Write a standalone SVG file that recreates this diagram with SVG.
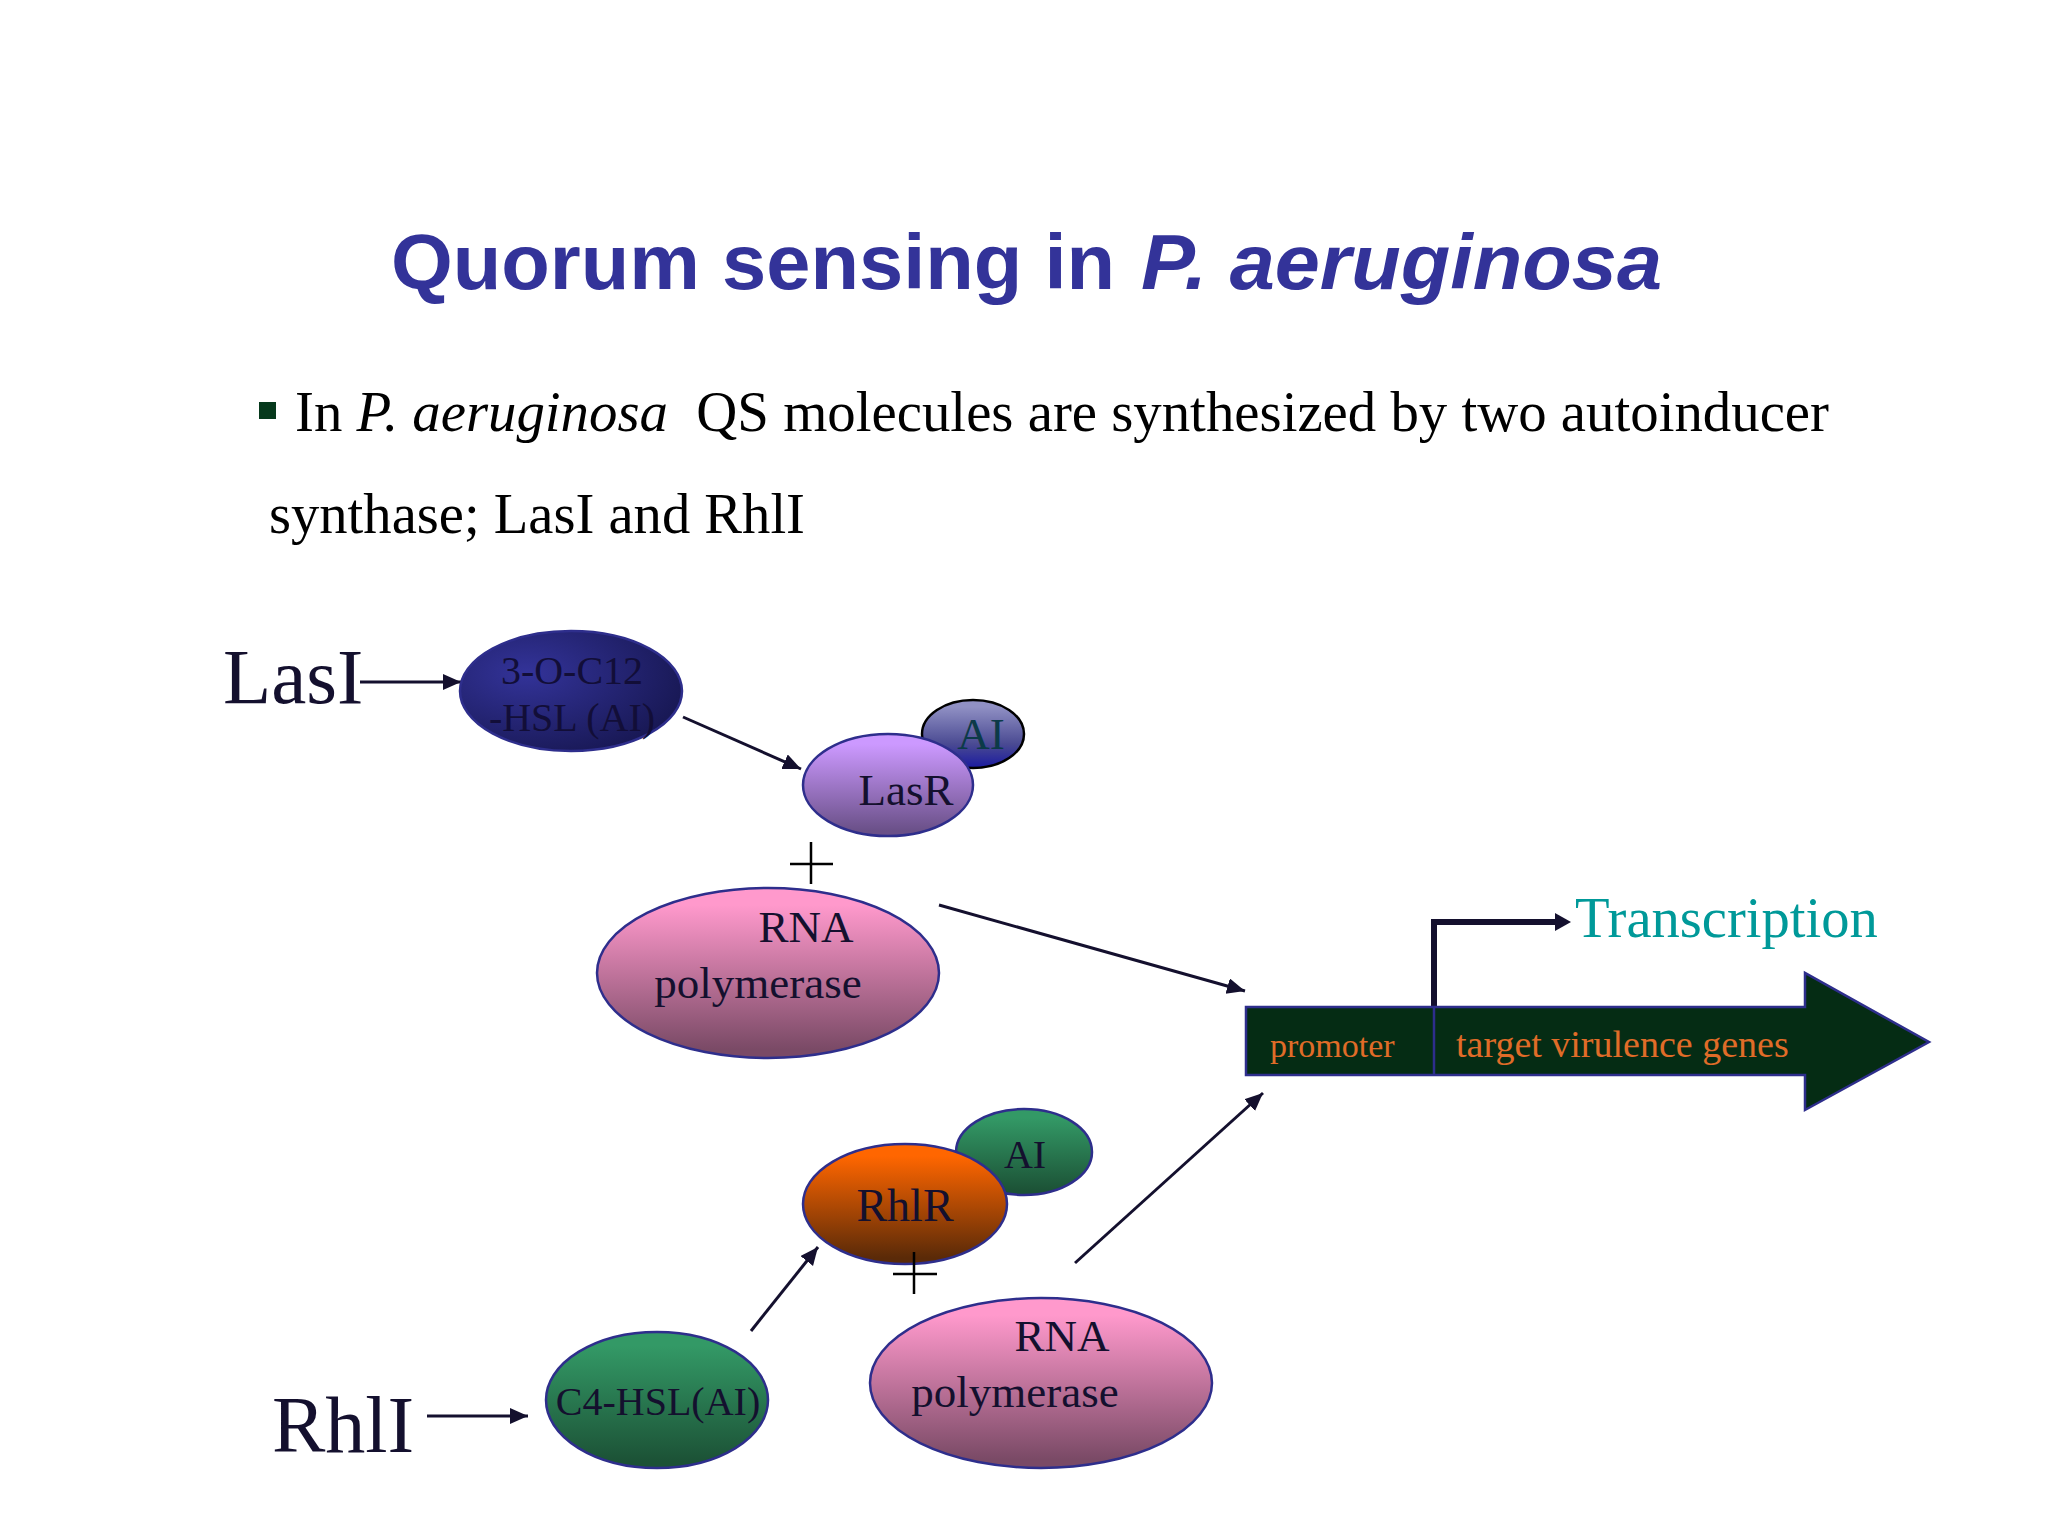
<svg xmlns="http://www.w3.org/2000/svg" width="2048" height="1536" viewBox="0 0 2048 1536">
<style>
text{font-family:"Liberation Serif",serif;fill:#14102e}
.title{font-family:"Liberation Sans",sans-serif;font-weight:700;font-size:78px;fill:#333399}
.body{font-size:56.6px;fill:#000}
.n{font-size:40px}
.m{font-size:45px}
.shape{stroke:#2e2e8c;stroke-width:2.5}
.c{stroke:#14102e;stroke-width:3;fill:none;marker-end:url(#ah)}
.plus{stroke:#000;stroke-width:2.5;fill:none}
</style>
<defs>
<marker id="ah" markerUnits="userSpaceOnUse" markerWidth="20" markerHeight="18" refX="18" refY="8" orient="auto"><path d="M0 0L18 8L0 16Z" fill="#14102e"/></marker>
<linearGradient id="pink" x1="0" y1="0" x2="0" y2="1"><stop offset=".1" stop-color="#ff99cc"/><stop offset=".95" stop-color="#7a4a66"/></linearGradient>
<linearGradient id="purple" x1="0" y1="0" x2="0" y2="1"><stop offset=".1" stop-color="#cc99ff"/><stop offset=".95" stop-color="#6a5088"/></linearGradient>
<linearGradient id="green" x1="0" y1="0" x2="0" y2="1"><stop offset=".1" stop-color="#339966"/><stop offset=".95" stop-color="#1c5236"/></linearGradient>
<linearGradient id="orange" x1="0" y1="0" x2="0" y2="1"><stop offset=".1" stop-color="#ff6600"/><stop offset=".95" stop-color="#5a2a08"/></linearGradient>
<linearGradient id="ai" x1="0" y1="0" x2="0" y2="1"><stop offset=".1" stop-color="#9090c4"/><stop offset=".65" stop-color="#4a4a92"/><stop offset="1" stop-color="#1a1aa0"/></linearGradient>
<radialGradient id="navy" cx=".3" cy=".35" r=".8"><stop offset="0" stop-color="#333399"/><stop offset="1" stop-color="#16164f"/></radialGradient>
</defs>
<text class="title" y="289"><tspan x="391" textLength="724" lengthAdjust="spacingAndGlyphs">Quorum sensing in</tspan> <tspan x="1141" textLength="521" lengthAdjust="spacingAndGlyphs" font-style="italic">P. aeruginosa</tspan></text>
<rect x="259" y="402" width="17" height="17" fill="#06391c"/>
<text class="body" x="295" y="431" xml:space="preserve" textLength="1534" lengthAdjust="spacingAndGlyphs">In <tspan font-style="italic">P. aeruginosa</tspan>  QS molecules are synthesized by two autoinducer</text>
<text class="body" x="269" y="533">synthase; LasI and RhlI</text>
<g id="connectors">
<path class="c" d="M360 682H461"/>
<path class="c" d="M683 717L801 769"/>
<path class="c" d="M939 905L1245 991"/>
<path class="c" d="M751 1331L818 1247"/>
<path class="c" d="M1075 1263L1263 1093"/>
<path class="c" d="M427 1416H528"/>
<path d="M1434 1008V922H1558" fill="none" stroke="#14102e" stroke-width="6"/>
<path d="M1555 913L1571 922L1555 931Z" fill="#14102e"/>
</g>
<text id="lasi" x="223" y="703" font-size="79">LasI</text>
<text id="rhli" x="272" y="1452" font-size="80">RhlI</text>
<g id="ahl12"><ellipse class="shape" cx="571" cy="691" rx="111" ry="60" fill="url(#navy)"/><text class="n" x="572" y="684" text-anchor="middle" style="fill:#120e38">3-O-C12</text><text class="n" x="572" y="731" text-anchor="middle" style="fill:#120e38">-HSL (AI)</text></g>
<g id="ai1"><ellipse cx="973" cy="734" rx="51" ry="34" fill="url(#ai)" stroke="#000" stroke-width="2.5"/><text class="m" x="981" y="749" text-anchor="middle" style="fill:#0c3a48">AI</text></g>
<g id="lasr"><ellipse class="shape" cx="888" cy="785" rx="85" ry="51" fill="url(#purple)"/><text class="m" x="906" y="805" text-anchor="middle">LasR</text></g>
<path class="plus" d="M790 864H833M811 842V884"/>
<g id="rnap1"><ellipse class="shape" cx="768" cy="973" rx="171" ry="85" fill="url(#pink)"/><text class="m" x="806" y="942" text-anchor="middle">RNA</text><text class="m" x="758" y="998" text-anchor="middle">polymerase</text></g>
<g id="ai2"><ellipse class="shape" cx="1024" cy="1152" rx="68" ry="43" fill="url(#green)"/><text class="n" x="1025" y="1168" text-anchor="middle">AI</text></g>
<g id="rhlr"><ellipse class="shape" cx="905" cy="1204" rx="102" ry="60" fill="url(#orange)"/><text x="905" y="1221" text-anchor="middle" font-size="46">RhlR</text></g>
<path class="plus" d="M893 1274H937M914 1252V1294"/>
<g id="c4hsl"><ellipse class="shape" cx="657" cy="1400" rx="111" ry="68" fill="url(#green)"/><text class="n" x="658" y="1415" text-anchor="middle">C4-HSL(AI)</text></g>
<g id="rnap2"><ellipse class="shape" cx="1041" cy="1383" rx="171" ry="85" fill="url(#pink)"/><text class="m" x="1062" y="1351" text-anchor="middle">RNA</text><text class="m" x="1015" y="1407" text-anchor="middle">polymerase</text></g>
<g id="gene">
<path class="shape" d="M1246 1007H1805V973L1929 1042L1805 1110V1075H1246Z" fill="#052c14"/>
<path class="shape" d="M1434 1007V1075"/>
<text x="1270" y="1057" font-size="34" style="fill:#e06c28">promoter</text>
<text x="1456" y="1057" font-size="38" style="fill:#e06c28">target virulence genes</text>
</g>
<text id="transcription" x="1575" y="937" font-size="56.6" style="fill:#009999">Transcription</text>
</svg>
